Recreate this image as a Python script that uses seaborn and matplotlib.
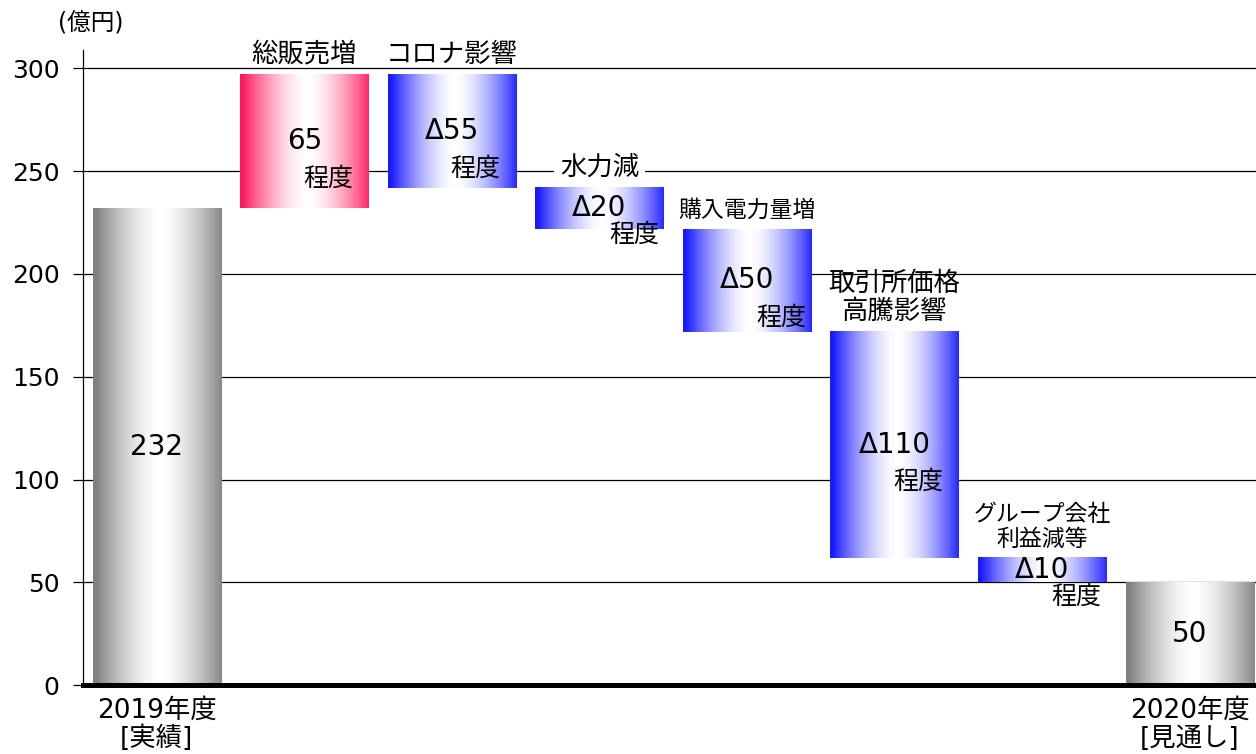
import numpy as np
import pandas as pd
import matplotlib
matplotlib.use('Agg')
import matplotlib.pyplot as plt
import seaborn as sns

# data (億円)
categories = ['2019年度\n[実績]', '総販売増', 'コロナ影響', '水力減', '購入電力量増',
              '取引所価格\n高騰影響', 'グループ会社\n利益減等', '2020年度\n[見通し]']
bar_low = [0, 232, 242, 222, 172, 62, 50, 0]
bar_high = [232, 297, 297, 242, 222, 172, 62, 50]
value_text = ['232', '65', 'Δ55', 'Δ20', 'Δ50', 'Δ110', 'Δ10', '50']
kind = ['total', 'up', 'down', 'down', 'down', 'down', 'down', 'total']
tick_labels = ['2019年度\n[実績]', '', '', '', '', '', '', '2020年度\n[見通し]']
y_ticks = [0, 50, 100, 150, 200, 250, 300]

sns.set_theme(style='white')
plt.rcParams['font.family'] = ['DejaVu Sans', 'Noto Sans CJK JP']
plt.rcParams['text.color'] = 'black'

edge_colors = {'total': (0.50, 0.50, 0.50), 'up': (1.0, 0.10, 0.37), 'down': (0.10, 0.10, 1.0)}


def gradient(c, n=256):
    t = np.linspace(0, 1, n)
    f = 1 - np.clip(np.abs(t - 0.52) / 0.5, 0, 1) ** 1.6
    rgb = np.array(c)[None, :] * (1 - f[:, None]) + f[:, None]
    return rgb[None, :, :]


df = pd.DataFrame({'item': categories,
                   'height': np.array(bar_high) - np.array(bar_low)})

fig = plt.figure(figsize=(12.56, 7.54), dpi=100)
ax = fig.add_axes([0.0661, 0.0915, 0.9339, 0.8422])
sns.barplot(data=df, x='item', y='height', width=0.868, color='white', ax=ax)

for i, (p, lo, hi, k) in enumerate(zip(ax.patches, bar_low, bar_high, kind)):
    p.set_y(lo)
    p.set_height(hi - lo)
    p.set_facecolor('none')
    p.set_edgecolor('none')
    x0 = p.get_x()
    w = p.get_width()
    ax.imshow(gradient(edge_colors[k]), extent=[x0, x0 + w, lo, hi],
              aspect='auto', zorder=2, interpolation='bilinear')

# value labels and 程度
for i, (lo, hi, txt) in enumerate(zip(bar_low, bar_high, value_text)):
    mid = (lo + hi) / 2
    ax.text(i, mid, txt, ha='center', va='center', fontsize=20, zorder=5)
    if kind[i] != 'total':
        h = hi - lo
        dx = 25 if h <= 50 else 17
        dy = -19 if h <= 20 else -27
        ax.annotate('程度', (i, mid), xytext=(dx, dy), textcoords='offset points',
                    ha='center', va='center', fontsize=18, zorder=5)

# category labels above the floating bars
for i in range(1, len(categories) - 1):
    longest = max(len(s) for s in categories[i].split('\n'))
    fs = 16.5 if longest >= 6 else 19
    gap = [g - bar_high[i] for g in y_ticks if g > bar_high[i]]
    boxed = len(gap) > 0 and 4 < gap[0] < 25
    ax.annotate(categories[i], (i, bar_high[i]), xytext=(0, 5), textcoords='offset points',
                ha='center', va='bottom', fontsize=fs, linespacing=1.1, zorder=6,
                bbox=dict(facecolor='white', edgecolor='none', pad=4) if boxed else None)

ax.set_xlim(-0.5, 7.45)
ax.set_ylim(0, 309)
ax.set_yticks(y_ticks)
ax.set_xticks(range(len(categories)))
ax.set_xticklabels(tick_labels, fontsize=19, linespacing=1.1)
ax.set_xlabel('')
ax.set_ylabel('')
ax.yaxis.grid(True, color='black', linewidth=0.9)
ax.set_axisbelow(True)

sns.despine(ax=ax)
ax.spines['left'].set_color('black')
ax.spines['left'].set_linewidth(0.9)
ax.spines['bottom'].set_color('black')
ax.spines['bottom'].set_linewidth(3.6)
ax.tick_params(axis='y', left=True, length=7, width=0.9, color='black', pad=10,
               labelsize=18, labelcolor='black')
ax.tick_params(axis='x', bottom=False, length=0, pad=9, labelcolor='black')

fig.text(0.072, 0.969, '(億円)', ha='center', va='center', fontsize=17)

fig.savefig('out.png', dpi=100)
